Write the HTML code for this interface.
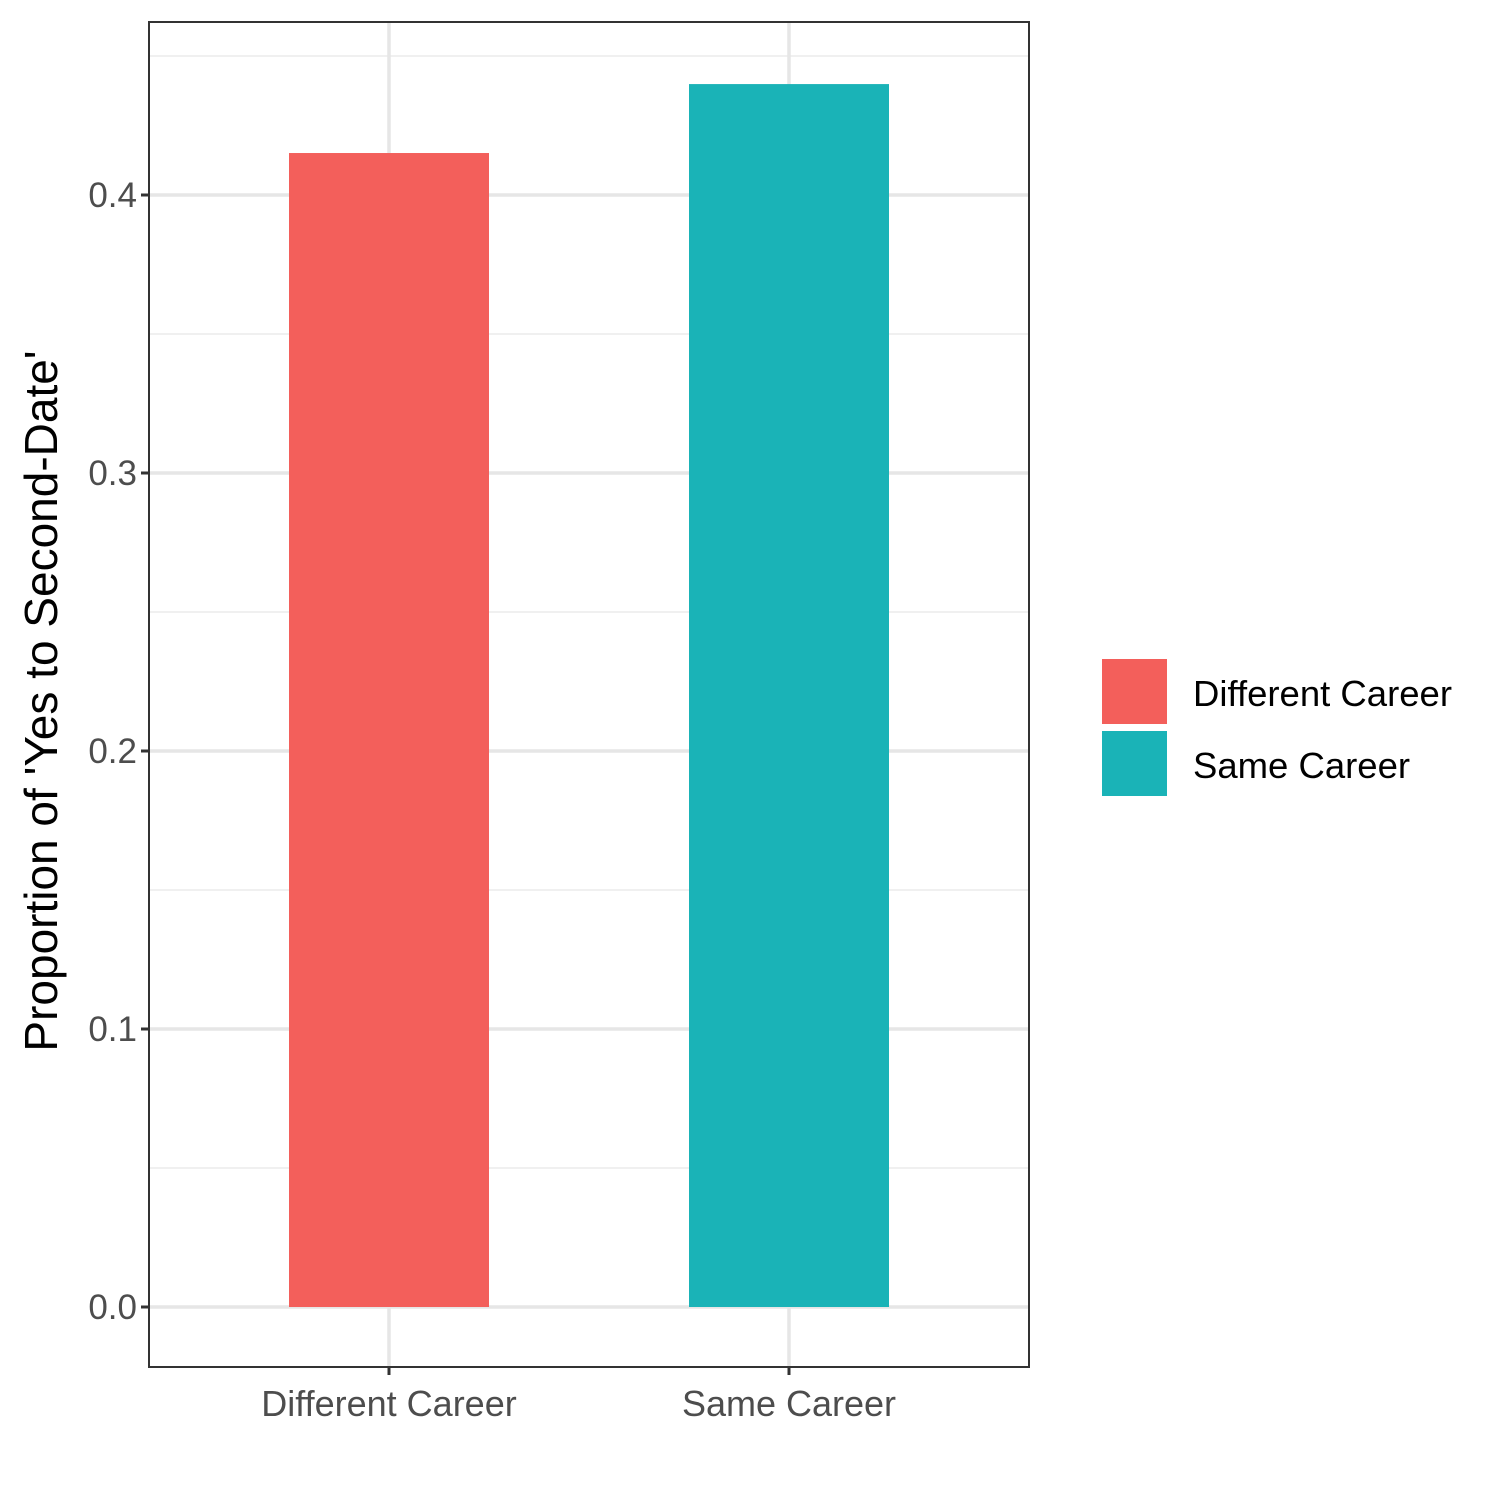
<!DOCTYPE html>
<html><head><meta charset="utf-8"><style>
body{margin:0;background:#fff}
svg text{font-family:"Liberation Sans",Arial,sans-serif}
</style></head><body>
<svg id="chart" width="1500" height="1500" xmlns="http://www.w3.org/2000/svg">
<rect width="1500" height="1500" fill="#fff"/>
<g id="grid"></g>
<g id="bars"></g>
<rect x="149" y="22" width="880" height="1345" fill="none" stroke="#333" stroke-width="2"/>
<g id="axes"></g>
<text transform="translate(57,701) rotate(-90)" text-anchor="middle" font-size="46" fill="#000">Proportion of 'Yes to Second-Date'</text>
<g id="legend"></g>
</svg>
<script>
const categories = ["Different Career", "Same Career"];
const values = [0.4151, 0.4399];
const colors = ["#F35F5B", "#1AB3B7"];
const yTicks = [0, 0.1, 0.2, 0.3, 0.4];
const yTickLabels = ["0.0", "0.1", "0.2", "0.3", "0.4"];
const yMinor = [0.05, 0.15, 0.25, 0.35, 0.45];

const NS = "http://www.w3.org/2000/svg";
const L = 149, R = 1029, T = 22, B = 1367;
function y(v){ return 1307 - v * 2780; }
const band = (R - L) / (categories.length + 0.2);
function x(i){ return L + band * 0.6 + band * i; }
function mk(tag, attrs, parent){
  const e = document.createElementNS(NS, tag);
  for (const k in attrs) e.setAttribute(k, attrs[k]);
  document.getElementById(parent).appendChild(e);
  return e;
}
yMinor.forEach(v => {
  const e = mk("line", {x1:L, x2:R, y1:y(v), y2:y(v), stroke:"#ebebeb", "stroke-width":1.5}, "grid");
  
  
});
yTicks.forEach((v, i) => {
  const e = mk("line", {x1:L, x2:R, y1:y(v), y2:y(v), stroke:"#e6e6e6", "stroke-width":3.5}, "grid");
  
  
  const t = mk("line", {x1:L-8, x2:L, y1:y(v), y2:y(v), stroke:"#333", "stroke-width":3}, "axes");
  
  
  const lb = mk("text", {x:L-12, y:y(v)+12, "text-anchor":"end", "font-size":35, fill:"#4d4d4d"}, "axes");
  lb.textContent = yTickLabels[i];
  
  
});
categories.forEach((c, i) => {
  const cx = x(i);
  const g = mk("line", {x1:cx, x2:cx, y1:T, y2:B, stroke:"#e6e6e6", "stroke-width":3.5}, "grid");
  
  
  const bw = band * 0.5;
  const b = mk("rect", {x:cx - bw/2, y:y(values[i]), width:bw, height:y(0)-y(values[i]), fill:colors[i]}, "bars");
  
  
  const t = mk("line", {x1:cx, x2:cx, y1:B, y2:B+8, stroke:"#333", "stroke-width":3}, "axes");
  
  
  const lb = mk("text", {x:cx, y:1416, "text-anchor":"middle", "font-size":36, fill:"#4d4d4d"}, "axes");
  lb.textContent = c;
  
  
  const k = mk("rect", {x:1102, y:659 + i*72, width:65, height:65, fill:colors[i]}, "legend");
  
  
  const lt = mk("text", {x:1193, y:706 + i*72, "font-size":36.5, fill:"#000"}, "legend");
  lt.textContent = c;
  
  
});
</script>
</body></html>
